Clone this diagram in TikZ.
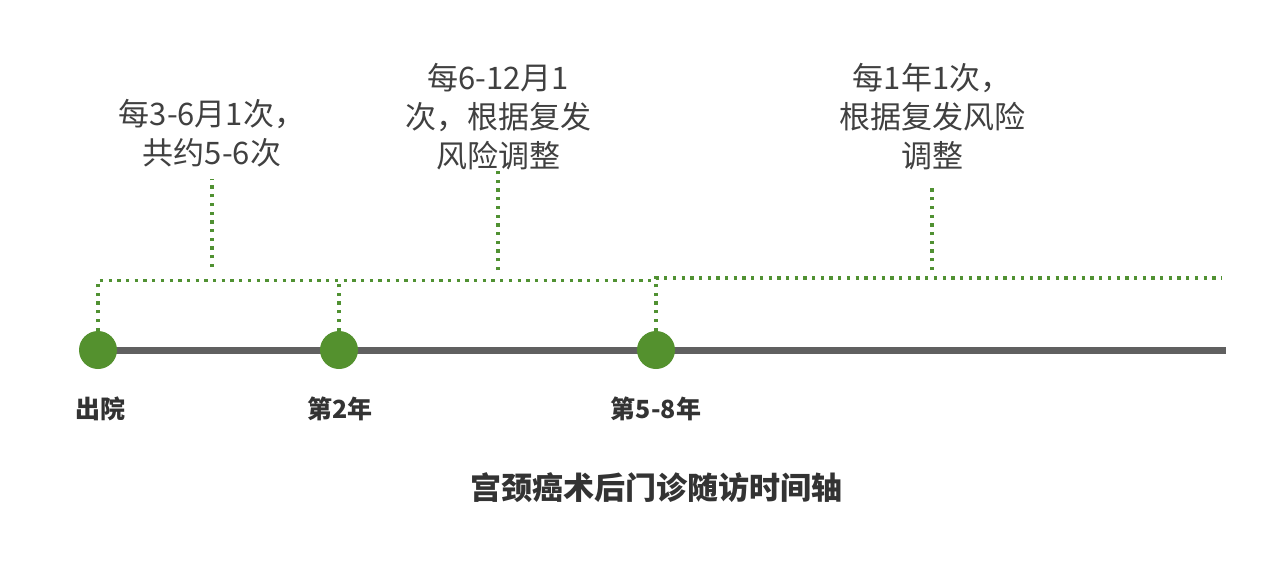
\documentclass[tikz,border=0pt]{standalone}
\usepackage{fontspec}
\setmainfont{Noto Sans CJK SC}
\definecolor{mgreen}{RGB}{84,145,46}
\definecolor{lgreen}{RGB}{80,145,50}
\definecolor{axisgray}{RGB}{96,96,96}
\definecolor{txt}{RGB}{64,64,64}
\definecolor{txtb}{RGB}{51,51,51}
\begin{document}
\begin{tikzpicture}[x=1pt,y=-1pt,
  milestone/.style={circle,fill=mgreen,minimum size=38pt,inner sep=0pt},
  guide/.style={draw=lgreen,line width=3.3pt,dash pattern=on 3.3pt off 5.4pt},
  axisline/.style={draw=axisgray,line width=7pt},
  note/.style={text=txt,font=\fontsize{31}{39}\selectfont,align=center,inner sep=0pt},
  ticklabel/.style={text=txtb,font=\bfseries\fontsize{25}{30}\selectfont,inner sep=0pt},
  titlelabel/.style={text=txtb,font=\bfseries\fontsize{31}{38}\selectfont,inner sep=0pt}]
\useasboundingbox (0,0) rectangle (1269,576);
\coordinate (p1) at (98,350);
\coordinate (p2) at (339,350);
\coordinate (p3) at (656,350);
\coordinate (axend) at (1226,350);
\draw[axisline] (p1) -- (axend);
\node[milestone] (d1) at (p1) {};
\node[milestone] (d2) at (p2) {};
\node[milestone] (d3) at (p3) {};
% brackets
\coordinate (c1) at (98,280.5);
\coordinate (c3) at (656,280.5);
\coordinate (c3b) at (656,278);
\coordinate (rend) at (1222,278);
\draw[guide] (d1.north) -- (c1) -- (c3);
\draw[guide] (d2.north) -- (d2.north |- c1);
\draw[guide] (d3.north) -- (c3b) -- (rend);
% notes
\node[note] (n1) at (212,133) {每3-6月1次，\\共约5-6次};
\node[note] (n2) at (498,117) {每6-12月1\\次，根据复发\\风险调整};
\node[note] (n3) at (932,117) {每1年1次，\\根据复发风险\\调整};
\coordinate (s1a) at (212,267);
\coordinate (s1b) at (212,179);
\coordinate (s2a) at (498,270);
\coordinate (s2b) at (498,167);
\coordinate (s3a) at (932,270);
\coordinate (s3b) at (932,184);
\draw[guide] (s1a) -- (s1b);
\draw[guide] (s2a) -- (s2b);
\draw[guide] (s3a) -- (s3b);
% tick labels
\node[ticklabel] (t1) at (100,409) {出院};
\node[ticklabel] (t2) at (340,409) {第2年};
\node[ticklabel] (t3) at (656,409) {第5-8年};
\node[titlelabel] (title) at (656,488) {宫颈癌术后门诊随访时间轴};
\end{tikzpicture}
\end{document}
